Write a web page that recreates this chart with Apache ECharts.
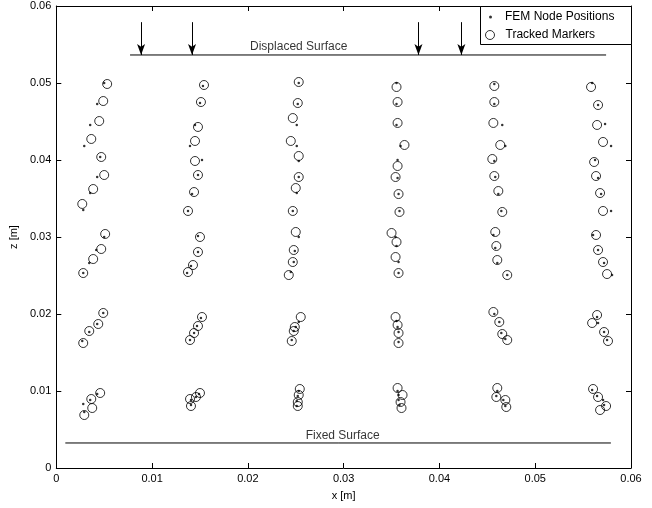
<!DOCTYPE html>
<html>
<head>
<meta charset="utf-8">
<script src="https://cdn.jsdelivr.net/npm/echarts@6/dist/echarts.min.js"></script>
<style>html,body{margin:0;padding:0;background:#fff}#c{width:652px;height:508px}</style>
</head>
<body>
<div id="c"></div>
<script>
// FEM node positions [x, z] in metres
const femNodes = [
  [0.00500,0.05000],[0.00427,0.04727],[0.00354,0.04455],[0.00292,0.04182],[0.00458,0.04039],[0.00427,0.03779],[0.00354,0.03571],[0.00281,0.03351],
  [0.00500,0.03000],[0.00417,0.02831],[0.00344,0.02662],[0.00281,0.02532],[0.00490,0.02013],[0.00427,0.01870],[0.00344,0.01766],[0.00271,0.01649],
  [0.00427,0.00961],[0.00354,0.00883],[0.00281,0.00831],[0.00292,0.00727],
  [0.01531,0.04961],[0.01500,0.04740],[0.01448,0.04455],[0.01396,0.04182],[0.01521,0.04000],[0.01479,0.03805],[0.01417,0.03558],[0.01375,0.03338],
  [0.01479,0.03013],[0.01479,0.02805],[0.01406,0.02623],[0.01365,0.02532],[0.01510,0.01948],[0.01469,0.01844],[0.01438,0.01753],[0.01396,0.01662],
  [0.01490,0.00961],[0.01458,0.00922],[0.01406,0.00883],[0.01406,0.00818],
  [0.02531,0.05000],[0.02521,0.04727],[0.02510,0.04455],[0.02510,0.04182],[0.02531,0.03987],[0.02531,0.03779],[0.02510,0.03571],[0.02469,0.03338],
  [0.02531,0.03000],[0.02490,0.02818],[0.02479,0.02675],[0.02448,0.02545],[0.02531,0.01896],[0.02500,0.01831],[0.02479,0.01779],[0.02458,0.01662],
  [0.02531,0.01000],[0.02521,0.00935],[0.02510,0.00870],[0.02510,0.00805],
  [0.03552,0.05000],[0.03552,0.04727],[0.03552,0.04455],[0.03594,0.04182],[0.03563,0.04000],[0.03563,0.03766],[0.03573,0.03558],[0.03583,0.03338],
  [0.03542,0.03000],[0.03552,0.02883],[0.03573,0.02675],[0.03573,0.02532],[0.03552,0.01909],[0.03563,0.01831],[0.03573,0.01766],[0.03573,0.01636],
  [0.03563,0.01000],[0.03573,0.00948],[0.03573,0.00883],[0.03583,0.00818],
  [0.04573,0.04987],[0.04573,0.04727],[0.04656,0.04455],[0.04688,0.04182],[0.04573,0.03987],[0.04583,0.03779],[0.04615,0.03558],[0.04646,0.03338],
  [0.04563,0.03026],[0.04583,0.02857],[0.04604,0.02662],[0.04708,0.02506],[0.04573,0.02000],[0.04625,0.01896],[0.04646,0.01753],[0.04688,0.01675],
  [0.04604,0.01000],[0.04594,0.00935],[0.04667,0.00883],[0.04688,0.00805],
  [0.05594,0.05000],[0.05656,0.04714],[0.05729,0.04468],[0.05792,0.04182],[0.05625,0.04000],[0.05656,0.03766],[0.05688,0.03558],[0.05792,0.03338],
  [0.05604,0.03026],[0.05656,0.02831],[0.05719,0.02662],[0.05802,0.02506],[0.05646,0.01961],[0.05656,0.01883],[0.05719,0.01766],[0.05750,0.01662],
  [0.05594,0.01013],[0.05646,0.00935],[0.05708,0.00883],[0.05719,0.00818]
];
// Tracked marker positions [x, z] in metres
const trackedMarkers = [
  [0.00531,0.04987],[0.00490,0.04766],[0.00448,0.04506],[0.00365,0.04273],[0.00469,0.04039],[0.00500,0.03805],[0.00385,0.03623],[0.00271,0.03429],
  [0.00510,0.03039],[0.00469,0.02844],[0.00385,0.02714],[0.00281,0.02532],[0.00490,0.02013],[0.00438,0.01870],[0.00344,0.01779],[0.00281,0.01623],
  [0.00458,0.00974],[0.00365,0.00896],[0.00375,0.00779],[0.00292,0.00688],
  [0.01542,0.04974],[0.01510,0.04753],[0.01479,0.04429],[0.01448,0.04247],[0.01448,0.03987],[0.01479,0.03805],[0.01438,0.03584],[0.01375,0.03338],
  [0.01500,0.03000],[0.01479,0.02805],[0.01427,0.02636],[0.01375,0.02545],[0.01521,0.01961],[0.01479,0.01844],[0.01438,0.01753],[0.01396,0.01662],
  [0.01500,0.00974],[0.01458,0.00922],[0.01396,0.00896],[0.01406,0.00805],
  [0.02531,0.05013],[0.02521,0.04740],[0.02469,0.04545],[0.02448,0.04247],[0.02531,0.04052],[0.02531,0.03779],[0.02500,0.03636],[0.02469,0.03338],
  [0.02500,0.03065],[0.02479,0.02831],[0.02469,0.02675],[0.02427,0.02506],[0.02552,0.01961],[0.02490,0.01831],[0.02479,0.01779],[0.02458,0.01649],
  [0.02542,0.01026],[0.02531,0.00948],[0.02521,0.00857],[0.02521,0.00805],
  [0.03552,0.04948],[0.03563,0.04753],[0.03563,0.04481],[0.03635,0.04195],[0.03563,0.03922],[0.03542,0.03779],[0.03573,0.03558],[0.03583,0.03325],
  [0.03500,0.03052],[0.03552,0.02935],[0.03542,0.02740],[0.03573,0.02532],[0.03542,0.01961],[0.03563,0.01857],[0.03573,0.01753],[0.03573,0.01623],
  [0.03563,0.01039],[0.03615,0.00948],[0.03594,0.00857],[0.03604,0.00779],
  [0.04573,0.04961],[0.04573,0.04753],[0.04563,0.04481],[0.04635,0.04195],[0.04552,0.04013],[0.04573,0.03792],[0.04615,0.03597],[0.04656,0.03325],
  [0.04583,0.03065],[0.04594,0.02883],[0.04604,0.02701],[0.04708,0.02506],[0.04563,0.02026],[0.04625,0.01896],[0.04656,0.01740],[0.04708,0.01662],
  [0.04604,0.01039],[0.04594,0.00922],[0.04688,0.00883],[0.04698,0.00792],
  [0.05583,0.04948],[0.05656,0.04714],[0.05646,0.04455],[0.05708,0.04234],[0.05615,0.03974],[0.05635,0.03792],[0.05677,0.03571],[0.05708,0.03338],
  [0.05635,0.03026],[0.05656,0.02831],[0.05708,0.02675],[0.05750,0.02519],[0.05646,0.01987],[0.05594,0.01883],[0.05719,0.01766],[0.05760,0.01649],
  [0.05604,0.01026],[0.05656,0.00922],[0.05740,0.00805],[0.05677,0.00753]
];
// Surfaces: [x start, x end, z]
const displacedSurface = [[0.0077,0.05364],[0.0574,0.05364]];
const fixedSurface = [[0.00094,0.00325],[0.0579,0.00325]];
// Load arrows: x positions, from z top to z bottom
const arrowX = [0.00885, 0.01417, 0.03781, 0.04229];
const arrowZ = [0.0579, 0.05364];
// Text annotations [x, z, text]
const annotations = [[0.02531,0.0547,'Displaced Surface'],[0.0299,0.00418,'Fixed Surface']];
const axisMin = 0, axisMax = 0.06, axisStep = 0.01;

const FONT = 'Liberation Sans, Arial, Helvetica, sans-serif';
const chart = echarts.init(document.getElementById('c'));
const baseAxis = {
  type: 'value', min: axisMin, max: axisMax, interval: axisStep,
  axisLine: {show: true, onZero: false, lineStyle: {color: '#000', width: 1}},
  axisTick: {show: true, inside: true, length: 5, lineStyle: {color: '#000'}},
  splitLine: {show: false},
  axisLabel: {color: '#000', fontFamily: FONT, fontSize: 11, formatter: v => String(+v.toFixed(2))}
};
chart.setOption({
  animation: false,
  backgroundColor: '#fff',
  grid: {left: 55, top: 6, right: 21, bottom: 40, containLabel: false},
  xAxis: [
    Object.assign({}, baseAxis, {position: 'bottom', name: 'x [m]', nameLocation: 'middle', nameGap: 22,
      nameTextStyle: {color: '#000', fontFamily: FONT, fontSize: 11},
      axisLabel: Object.assign({}, baseAxis.axisLabel, {margin: 5})}),
    Object.assign({}, baseAxis, {position: 'top', axisLabel: {show: false}})
  ],
  yAxis: [
    Object.assign({}, baseAxis, {position: 'left', name: 'z [m]', nameLocation: 'middle', nameGap: 36,
      nameTextStyle: {color: '#000', fontFamily: FONT, fontSize: 11},
      axisLabel: Object.assign({}, baseAxis.axisLabel, {margin: 5})}),
    Object.assign({}, baseAxis, {position: 'right', axisLabel: {show: false}})
  ],
  legend: [
    {data: ['FEM Node Positions'], orient: 'vertical', left: 489, top: 11, padding: 0, itemWidth: 3, itemHeight: 3,
     icon: 'circle', textStyle: {color: '#000', fontFamily: FONT, fontSize: 12, padding: [0,0,0,8]}, selectedMode: false},
    {data: [{name: 'Tracked Markers', icon: 'circle',
             itemStyle: {color: 'rgba(0,0,0,0)', borderColor: '#000', borderWidth: 1}}],
     orient: 'vertical', left: 485, top: 29, padding: 0, itemWidth: 9, itemHeight: 9,
     itemStyle: {borderWidth: 1},
     textStyle: {color: '#000', fontFamily: FONT, fontSize: 12, padding: [0,0,0,6]}, selectedMode: false}
  ],
  graphic: [{type: 'rect', z: 3, shape: {x: 480.5, y: 6.5, width: 151, height: 38},
    style: {fill: '#fff', stroke: '#000', lineWidth: 1}}],
  series: [
    {name: 'Tracked Markers', type: 'scatter', data: trackedMarkers, symbol: 'circle', symbolSize: 9,
     itemStyle: {color: 'rgba(0,0,0,0)', borderColor: '#000', borderWidth: 1}, z: 2},
    {name: 'FEM Node Positions', type: 'scatter', data: femNodes, symbol: 'circle', symbolSize: 2.5,
     itemStyle: {color: '#000'}, z: 3},
    {name: 'Displaced', type: 'line', data: displacedSurface, symbol: 'none', lineStyle: {color: '#000', width: 1}, silent: true},
    {name: 'Fixed', type: 'line', data: fixedSurface, symbol: 'none', lineStyle: {color: '#000', width: 1}, silent: true},
    {name: 'Arrows', type: 'line', data: [], silent: true,
     markLine: {silent: true, symbol: ['none', 'arrow'], symbolSize: [6, 11], label: {show: false},
       lineStyle: {color: '#000', width: 1, type: 'solid'},
       data: arrowX.map(x => [{coord: [x, arrowZ[0]]}, {coord: [x, arrowZ[1]]}])}},
    {name: 'Labels', type: 'scatter', silent: true, symbolSize: 0,
     data: annotations.map(a => ({value: [a[0], a[1]], name: a[2]})),
     label: {show: true, position: 'inside', formatter: p => p.name, color: '#000', fontFamily: FONT, fontSize: 12}}
  ]
});
</script>
</body>
</html>
